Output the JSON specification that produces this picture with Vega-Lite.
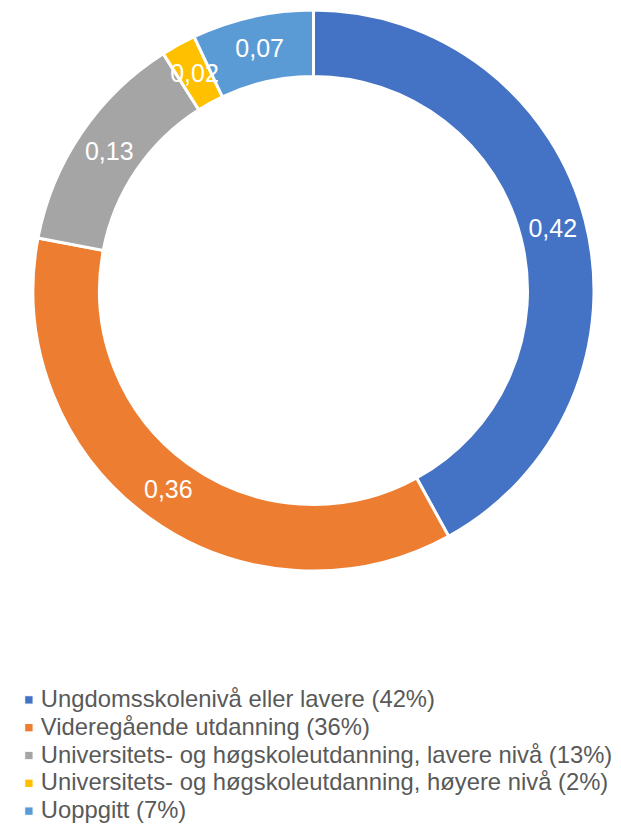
{
  "$schema": "https://vega.github.io/schema/vega-lite/v6.json",
  "width": 627,
  "height": 581,
  "padding": 0,
  "autosize": {"type": "pad"},
  "background": "white",
  "data": {
    "values": [
      {"cat": "Ungdomsskolenivå eller lavere (42%)", "value": 0.42, "label": "0,42", "order": 1},
      {"cat": "Videregående utdanning (36%)", "value": 0.36, "label": "0,36", "order": 2},
      {"cat": "Universitets- og høgskoleutdanning, lavere nivå (13%)", "value": 0.13, "label": "0,13", "order": 3},
      {"cat": "Universitets- og høgskoleutdanning, høyere nivå (2%)", "value": 0.02, "label": "0,02", "order": 4},
      {"cat": "Uoppgitt (7%)", "value": 0.07, "label": "0,07", "order": 5}
    ]
  },
  "encoding": {
    "theta": {"field": "value", "type": "quantitative", "stack": true},
    "order": {"field": "order", "type": "quantitative"}
  },
  "layer": [
    {
      "mark": {"type": "arc", "outerRadius": 280.5, "innerRadius": 214, "stroke": "white", "strokeWidth": 3},
      "encoding": {
        "color": {
          "field": "cat",
          "type": "nominal",
          "sort": null,
          "scale": {
            "domain": [
              "Ungdomsskolenivå eller lavere (42%)",
              "Videregående utdanning (36%)",
              "Universitets- og høgskoleutdanning, lavere nivå (13%)",
              "Universitets- og høgskoleutdanning, høyere nivå (2%)",
              "Uoppgitt (7%)"
            ],
            "range": ["#4472C4", "#ED7D31", "#A5A5A5", "#FFC000", "#5B9BD5"]
          },
          "legend": {
            "orient": "none",
            "legendX": 17,
            "legendY": 688,
            "title": null,
            "padding": 0,
            "symbolType": "square",
            "symbolSize": 70,
            "symbolStrokeColor": "white",
            "symbolStrokeWidth": 1,
            "labelFont": "Liberation Sans",
            "labelFontSize": 23.8,
            "labelColor": "#595959",
            "labelLimit": 0,
            "labelOffset": 0,
            "rowPadding": 2.8
          }
        }
      }
    },
    {
      "mark": {"type": "text", "radius": 247, "fontSize": 25, "font": "Liberation Sans", "fill": "white"},
      "encoding": {
        "text": {"field": "label", "type": "nominal"}
      }
    }
  ],
  "config": {"view": {"stroke": null}}
}
